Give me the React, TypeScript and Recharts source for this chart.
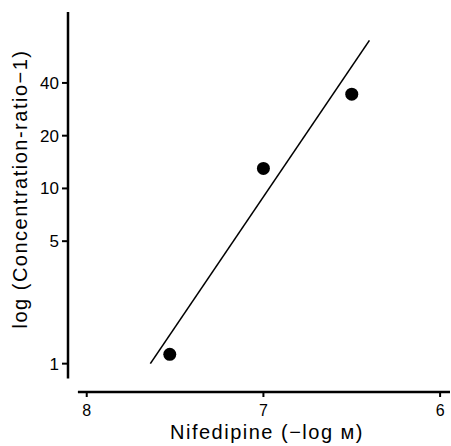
import React from 'react';
import {
  ComposedChart,
  Line,
  Scatter,
  XAxis,
  YAxis,
  ReferenceLine,
} from 'recharts';

// measured points
const doseX = [7.53, 7.0, 6.5];
const ratioY = [1.13, 13, 34.5];

// regression line end points
const fitX = [7.64, 6.4];
const fitY = [1.0, 70];

const xTicks = [8, 7, 6];
const yTicks = [1, 5, 10, 20, 40];

const points = doseX.map((x, i) => ({ x, y: ratioY[i] }));
const fit = fitX.map((x, i) => ({ x, y: fitY[i] }));

const X_DOMAIN: [number, number] = [5.944, 8.106];
const Y_DOMAIN: [number, number] = [0.689, 101.6];
const FONT = '"Liberation Sans", Arial, sans-serif';

const Dot = (props: any) => {
  const { cx, cy } = props;
  return <circle cx={cx} cy={cy} r={6.5} fill="#000" />;
};

const App: React.FC = () => {
  return (
    <div style={{ position: 'absolute', left: 0, top: 0, background: '#fff' }}>
      <ComposedChart
        width={451}
        height={446}
        margin={{ top: 12, right: 1, left: 8, bottom: 24 }}
        style={{ fontFamily: FONT }}
      >
        <XAxis
          dataKey="x"
          type="number"
          domain={X_DOMAIN}
          allowDataOverflow
          reversed
          ticks={xTicks}
          axisLine={false}
          tickLine={{ stroke: '#000', strokeWidth: 2 }}
          tickSize={5}
          tickMargin={8}
          height={30}
          tick={{ fill: '#000', fontSize: 16, fontFamily: FONT }}
          label={{
            value: 'Nifedipine (\u2212log \u043c)',
            position: 'bottom',
            offset: 3,
            dx: 8,
            fill: '#000',
            fontSize: 20,
            fontFamily: FONT,
            style: { letterSpacing: 1.5 },
          }}
        />
        <YAxis
          dataKey="y"
          type="number"
          scale="log"
          domain={Y_DOMAIN}
          allowDataOverflow
          ticks={yTicks}
          axisLine={false}
          tickLine={{ stroke: '#000', strokeWidth: 2 }}
          tickSize={6}
          tickMargin={3}
          width={60}
          tick={{ fill: '#000', fontSize: 17, fontFamily: FONT }}
          label={{
            value: 'log (Concentration-ratio\u22121)',
            angle: -90,
            position: 'insideLeft',
            offset: 12,
            dy: -13,
            fill: '#000',
            fontSize: 20,
            fontFamily: FONT,
            style: { textAnchor: 'middle', letterSpacing: 1.5 },
          }}
        />
        <ReferenceLine
          segment={[
            { x: 8.106, y: 0.824 },
            { x: 8.106, y: 101.6 },
          ]}
          stroke="#000"
          strokeWidth={2.5}
          ifOverflow="visible"
        />
        <ReferenceLine
          segment={[
            { x: 8.05, y: 0.689 },
            { x: 5.944, y: 0.689 },
          ]}
          stroke="#000"
          strokeWidth={2.5}
          ifOverflow="visible"
        />
        <Line
          data={fit}
          dataKey="y"
          type="linear"
          stroke="#000"
          strokeWidth={1.6}
          dot={false}
          activeDot={false}
          isAnimationActive={false}
        />
        <Scatter
          data={points}
          dataKey="y"
          shape={<Dot />}
          isAnimationActive={false}
        />
      </ComposedChart>
    </div>
  );
};

export default App;
